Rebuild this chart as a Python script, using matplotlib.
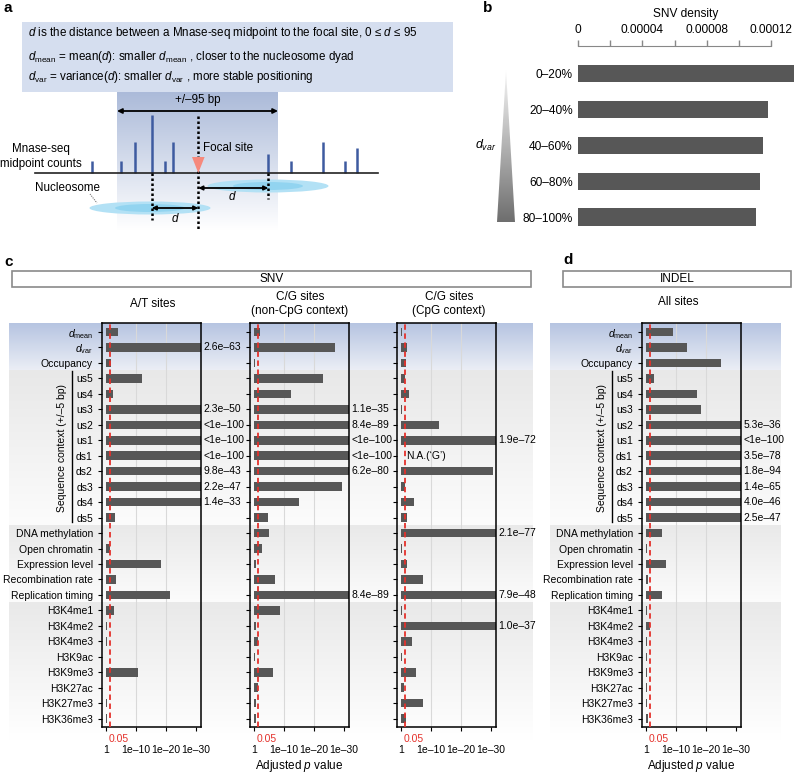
import numpy as np
import matplotlib.pyplot as plt
from matplotlib.colors import LinearSegmentedColormap
from matplotlib.patches import Ellipse, Polygon, Rectangle
from matplotlib.transforms import blended_transform_factory

plt.rcParams['font.family'] = ['Liberation Sans', 'DejaVu Sans']
plt.rcParams['mathtext.fontset'] = 'custom'
plt.rcParams['mathtext.rm'] = 'Liberation Sans'
plt.rcParams['mathtext.it'] = 'Liberation Sans:italic'
plt.rcParams['mathtext.bf'] = 'Liberation Sans:bold'

### data ###

# panel b: SNV density by d_var quintile
dvar_bins = ['0–20%', '20–40%', '40–60%', '60–80%', '80–100%']
snv_density = [0.000136, 0.0001178, 0.0001145, 0.0001129, 0.0001106]

# panels c, d: adjusted p values per feature
features = [r'$d_{\mathrm{mean}}$', r'$d_{\mathrm{var}}$', 'Occupancy',
            'us5', 'us4', 'us3', 'us2', 'us1', 'ds1', 'ds2', 'ds3', 'ds4', 'ds5',
            'DNA methylation', 'Open chromatin', 'Expression level',
            'Recombination rate', 'Replication timing',
            'H3K4me1', 'H3K4me2', 'H3K4me3', 'H3K9ac', 'H3K9me3',
            'H3K27ac', 'H3K27me3', 'H3K36me3']

p_at = [8e-5, 2.6e-63, 2e-2, 1e-12, 4e-3, 2.3e-50, 1e-100, 1e-100, 1e-100,
        9.8e-43, 2.2e-47, 1.4e-33, 1.3e-3,
        0.8, 6e-2, 5e-19, 5e-4, 4e-22,
        2e-3, 0.6, 0.6, 0.7, 2.5e-11, 0.7, 0.6, 0.6]
p_noncpg = [8e-3, 1e-27, 0.6, 8e-24, 6e-13, 1.1e-35, 8.4e-89, 1e-100, 1e-100,
            6.2e-80, 5e-30, 1.3e-15, 2.5e-5,
            8e-6, 2.5e-3, 0.25, 1.3e-7, 8.4e-89,
            2.5e-9, 0.25, 5e-2, 0.6, 3e-7, 5e-2, 0.25, 0.2]
p_cpg = [0.5, 8e-3, 1.6e-2, 4e-2, 1.6e-3, 0.5, 2e-13, 1.9e-72, np.nan,
         2e-31, 3e-2, 4e-5, 8e-3,
         2.1e-77, 0.3, 8e-3, 5e-8, 7.9e-48,
         0.5, 1.0e-37, 2e-4, 0.5, 8e-6, 0.13, 4e-8, 1.6e-2]
p_indel = [1e-9, 1.6e-14, 1.3e-25, 1.6e-3, 8e-18, 6e-19, 5.3e-36, 1e-100, 3.5e-78,
           1.8e-94, 1.4e-65, 4.0e-46, 2.5e-47,
           5e-6, 0.6, 2e-7, 0.25, 4e-6,
           0.3, 6e-2, 0.3, 0.6, 0.3, 0.6, 0.3, 0.25]

# panel a schematic: Mnase-seq midpoint count sticks
count_x = [92, 121, 135, 151.7, 165, 173.3, 268.3, 291, 322.7, 345, 356.7]
count_h = [12, 12, 31, 58, 12, 31, 19, 12, 31, 12, 25]

### figure ###
W, H = 794, 774
fig = plt.figure(figsize=(W / 100, H / 100), dpi=100)

bg = fig.add_axes([0, 0, 1, 1], zorder=-1)
bg.axis('off')


def px_axes(x0, y0, x1, y1):
    return fig.add_axes([x0 / W, 1 - y1 / H, (x1 - x0) / W, (y1 - y0) / H])


def vgrad(ax, x0, x1, y0, y1, c0, c1, clip=None):
    cmap = LinearSegmentedColormap.from_list('g', [c0, c1])
    im = ax.imshow(np.linspace(0, 1, 256).reshape(-1, 1), cmap=cmap, aspect='auto',
                   extent=(x0, x1, y1, y0), interpolation='bilinear', zorder=0)
    if clip is not None:
        im.set_clip_path(clip)
    return im


## panel a
bg.text(4, 8, 'a', fontsize=11, fontweight='bold', va='center')
bg.add_patch(Rectangle((22, 22), 431, 70, color='#d5deef', lw=0))
kw = dict(fontsize=8.4, va='center')
bg.text(28, 33, r'$d$ is the distance between a Mnase-seq midpoint to the focal site, 0 ≤ $d$ ≤ 95', **kw)
bg.text(28, 57, r'$d_{\mathrm{mean}}$ = mean($d$): smaller $d_{\mathrm{mean}}$ , closer to the nucleosome dyad', **kw)
bg.text(28, 77, r'$d_{\mathrm{var}}$ = variance($d$): smaller $d_{\mathrm{var}}$ , more stable positioning', **kw)

vgrad(bg, 117, 278, 92, 230, '#abbad9', '#ffffff')
bg.vlines(count_x, 173 - np.array(count_h), 173, color='#3e5ba0', lw=1.8, zorder=3)
bg.plot([35, 378], [173, 173], color='#222222', lw=1.2, zorder=3)

arr = dict(arrowstyle='<|-|>', color='black', lw=1.3, mutation_scale=7, shrinkA=0, shrinkB=0)
bg.annotate('', xy=(117, 111), xytext=(278, 111), arrowprops=arr)
bg.text(198, 100, '+/–95 bp', fontsize=8.4, ha='center', va='center')

bg.add_patch(Ellipse((268, 186), 121, 13, color='#b3e1f5', lw=0, zorder=2))
bg.add_patch(Ellipse((268, 186), 70, 8, color='#92d4f0', lw=0, zorder=2))
bg.add_patch(Ellipse((150, 208), 121, 13, color='#b3e1f5', lw=0, zorder=2))
bg.add_patch(Ellipse((150, 208), 70, 8, color='#92d4f0', lw=0, zorder=2))

dot = dict(color='black', lw=1.8, ls=(0, (1, 1)), zorder=4)
bg.plot([198.3, 198.3], [116, 229], **dot)
bg.plot([151.7, 151.7], [173, 220], **dot)
bg.plot([268.3, 268.3], [173, 199], **dot)
bg.add_patch(Polygon([(192, 157), (204.6, 157), (198.3, 173)], color='#f6897c', lw=0, zorder=5))
bg.text(203, 148, 'Focal site', fontsize=8.4, va='center')

arr2 = dict(arrowstyle='<|-|>', color='black', lw=1.3, mutation_scale=6, shrinkA=0, shrinkB=0)
bg.annotate('', xy=(198.3, 188), xytext=(268.3, 188), arrowprops=arr2, zorder=5)
bg.annotate('', xy=(151.7, 208), xytext=(198.3, 208), arrowprops=arr2, zorder=5)
bg.text(232, 197, '$d$', fontsize=8.4, ha='center', va='center')
bg.text(175, 218, '$d$', fontsize=8.4, ha='center', va='center')

bg.text(41, 156.5, 'Mnase-seq\nmidpoint counts', fontsize=8.4, ha='center', va='center', linespacing=1.25)
bg.text(68, 188, 'Nucleosome', fontsize=8.4, ha='center', va='center')
bg.plot([90, 97], [194, 203], color='#777777', lw=0.8, ls=(0, (1, 1)))

## panel b
bg.text(483, 8, 'b', fontsize=11, fontweight='bold', va='center')
axb = px_axes(577.7, 46, 794, 230)
axb.patch.set_alpha(0)
yb = np.arange(len(dvar_bins))
axb.barh(yb, snv_density, height=0.48, color='#575757')
axb.set_xlim(0, 0.000134)
axb.set_ylim(4.36, -0.76)
axb.xaxis.tick_top()
axb.xaxis.set_label_position('top')
axb.set_xticks([0, 4e-5, 8e-5, 12e-5])
axb.set_xticklabels(['0', '0.00004', '0.00008', '0.00012'])
axb.set_xticks([2e-5, 6e-5, 10e-5], minor=True)
axb.tick_params(axis='x', which='both', length=4, color='#888888', width=1, labelsize=8.6, pad=3)
axb.set_xlabel('SNV density', fontsize=8.6, labelpad=5)
for s in ['left', 'right', 'bottom']:
    axb.spines[s].set_visible(False)
axb.spines['top'].set_bounds(0, 12e-5)
axb.spines['top'].set_color('#888888')
axb.set_yticks(yb)
axb.set_yticklabels(dvar_bins, fontsize=8.6)
axb.tick_params(axis='y', length=0, pad=3.5)

tri = Polygon([(506, 70), (497, 222), (515, 222)], fill=False, lw=0)
bg.add_patch(tri)
vgrad(bg, 497, 515, 70, 222, '#f6f6f6', '#6e6e6e', clip=tri)
bg.text(486, 145, '$d_{var}$', fontsize=9, ha='center', va='center')

## panels c, d
C_TOP, C_BOT = 322.7, 727
Y_LO, Y_HI = -0.6, 25.54
STEP = (C_BOT - C_TOP) / (Y_HI - Y_LO)


def row_px(r):
    return C_TOP + (r - Y_LO) * STEP


for x0, x1 in [(9, 533), (550, 781)]:
    vgrad(bg, x0, x1, C_TOP, row_px(2.5), '#b6c4e1', '#eceff6')
    vgrad(bg, x0, x1, row_px(2.5), row_px(12.5), '#e8e8e8', '#fcfcfc')
    vgrad(bg, x0, x1, row_px(12.5), row_px(17.5), '#e9e9e9', '#fcfcfc')
    vgrad(bg, x0, x1, row_px(17.5), 740, '#e9e9e9', '#ffffff')

bg.text(4, 262, 'c', fontsize=11, fontweight='bold', va='center')
bg.text(563, 260, 'd', fontsize=11, fontweight='bold', va='center')
bg.add_patch(Rectangle((12, 271), 519, 16, fill=False, edgecolor='#8a8a8a', lw=1.2))
bg.text(271.5, 279, 'SNV', fontsize=8.5, ha='center', va='center')
bg.add_patch(Rectangle((563, 271), 228, 16, fill=False, edgecolor='#8a8a8a', lw=1.2))
bg.text(677, 279, 'INDEL', fontsize=8.5, ha='center', va='center')

titles = [(153, 304, 'A/T sites'), (300, 304, 'C/G sites\n(non-CpG context)'),
          (449, 304, 'C/G sites\n(CpG context)'), (678, 302, 'All sites')]
for tx, ty, t in titles:
    bg.text(tx, ty, t, fontsize=8.5, ha='center', va='center', linespacing=1.15)

XMAX = 31.6
FS = 7.5
rows = np.arange(len(features))
panels = [(p_at, 102, True, False), (p_noncpg, 250, False, True),
          (p_cpg, 397, False, False), (p_indel, 642, True, True)]
for pvals, x0, show_names, show_xlabel in panels:
    ax = px_axes(x0, C_TOP, x0 + 98.7, C_BOT)
    ax.patch.set_alpha(0)
    score = -np.log10(np.array(pvals))
    ax.barh(rows, np.nan_to_num(score), height=0.55, color='#575757', zorder=2)
    for g in [10, 20]:
        ax.axvline(g, color='#d9d9d9', lw=0.8, zorder=1)
    ax.axvline(-np.log10(0.05), color='#e4312b', lw=1.3, ls=(0, (3, 2)), zorder=3)
    ax.set_xlim(-1.3, XMAX)
    ax.set_ylim(Y_HI, Y_LO)
    ax.set_xticks([0, 10, 20, 30])
    ax.set_xticklabels(['1', '1e–10', '1e–20', '1e–30'])
    ax.tick_params(axis='x', length=3, pad=10, labelsize=FS)
    ax.set_yticks(rows)
    ax.set_yticklabels(features if show_names else [''] * len(features))
    ax.tick_params(axis='y', length=3, pad=3.5, labelsize=FS)
    for s in ax.spines.values():
        s.set_linewidth(1.1)
    ax.annotate('0.05', xy=(0.75, 0), xycoords=('data', 'axes fraction'), xytext=(0, -8.5),
                textcoords='offset points', ha='left', va='center', color='#e4312b', fontsize=FS)
    for i, (p, s) in enumerate(zip(pvals, score)):
        if np.isnan(s):
            ax.text(1.9, i, "N.A.(‘G’)", ha='left', va='center', fontsize=FS)
        elif s > XMAX:
            lab = '<1e–100' if p <= 1e-100 else f'{p:.1e}'.replace('-', '–')
            ax.annotate(lab, xy=(1, i), xycoords=('axes fraction', 'data'), xytext=(2, 0),
                        textcoords='offset points', ha='left', va='center', fontsize=FS,
                        annotation_clip=False)
    if show_names:
        tr = blended_transform_factory(ax.transAxes, ax.transData)
        ax.plot([-30 / 98.7] * 2, [2.55, 12.3], transform=tr, color='black', lw=1, clip_on=False)
        ax.text(-40 / 98.7, 7.5, 'Sequence context (+/–5 bp)', rotation=90, transform=tr,
                ha='center', va='center', fontsize=FS)
    if show_xlabel:
        ax.set_xlabel('Adjusted $p$ value', fontsize=8.5, labelpad=2)

bg.set_xlim(0, W)
bg.set_ylim(H, 0)
fig.savefig('out.png', dpi=100)
